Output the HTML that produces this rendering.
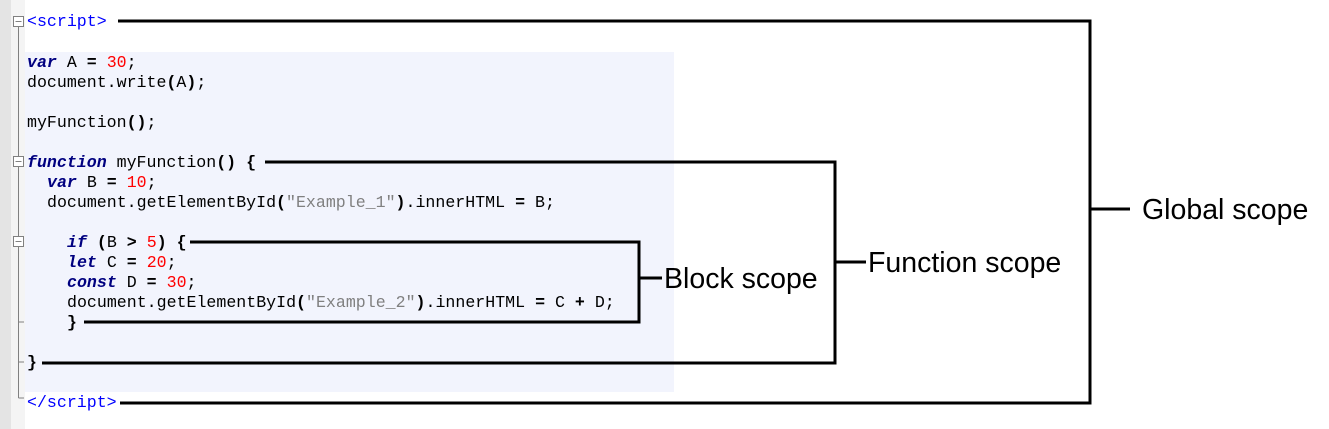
<!DOCTYPE html>
<html><head><meta charset="utf-8"><style>
html,body{margin:0;padding:0;background:#fff;width:1329px;height:429px;overflow:hidden}
svg{display:block}
.c{font-family:"Liberation Mono",monospace;font-size:16.6px;fill:#000;white-space:pre}
.k{fill:#000080;font-weight:bold;font-style:italic}
.o{font-weight:bold}
.n{fill:#ff0000}
.s{fill:#808080}
.t{fill:#0000ff}
.l{font-family:"Liberation Sans",sans-serif;font-size:28.5px;fill:#000}
</style></head><body>
<svg width="1329" height="429" xmlns="http://www.w3.org/2000/svg">
<rect x="0" y="0" width="11" height="429" fill="#e4e4e4"/>
<rect x="11" y="0" width="14" height="429" fill="#f4f4f4"/>
<rect x="25" y="52" width="649" height="340" fill="#f2f4fd"/>
<line x1="18.5" y1="26" x2="18.5" y2="398" stroke="#808080" stroke-width="1"/>
<line x1="18.5" y1="398" x2="24" y2="398" stroke="#808080"/>
<line x1="18.5" y1="322" x2="24" y2="322" stroke="#808080"/>
<line x1="18.5" y1="362" x2="24" y2="362" stroke="#808080"/>
<g fill="#fff" stroke="#808080">
<rect x="13.5" y="16.5" width="10" height="10"/>
<rect x="13.5" y="156.5" width="10" height="10"/>
<rect x="13.5" y="236.5" width="10" height="10"/>
</g>
<g stroke="#808080"><line x1="15.5" y1="21.5" x2="21.5" y2="21.5"/><line x1="15.5" y1="161.5" x2="21.5" y2="161.5"/><line x1="15.5" y1="241.5" x2="21.5" y2="241.5"/></g>
<g class="c">
<text x="27" y="26" class="t">&lt;script&gt;</text>
<text x="27" y="67"><tspan class="k">var</tspan> A <tspan class="o">=</tspan> <tspan class="n">30</tspan>;</text>
<text x="27" y="87">document.write<tspan class="o">(</tspan>A<tspan class="o">)</tspan>;</text>
<text x="27" y="127">myFunction<tspan class="o">()</tspan>;</text>
<text x="27" y="167"><tspan class="k">function</tspan> myFunction<tspan class="o">()</tspan> <tspan class="o">{</tspan></text>
<text x="47" y="187"><tspan class="k">var</tspan> B <tspan class="o">=</tspan> <tspan class="n">10</tspan>;</text>
<text x="47" y="207">document.getElementById<tspan class="o">(</tspan><tspan class="s">"Example_1"</tspan><tspan class="o">)</tspan>.innerHTML <tspan class="o">=</tspan> B;</text>
<text x="67" y="247"><tspan class="k">if</tspan> <tspan class="o">(</tspan>B <tspan class="o">&gt;</tspan> <tspan class="n">5</tspan><tspan class="o">)</tspan> <tspan class="o">{</tspan></text>
<text x="67" y="267"><tspan class="k">let</tspan> C <tspan class="o">=</tspan> <tspan class="n">20</tspan>;</text>
<text x="67" y="287"><tspan class="k">const</tspan> D <tspan class="o">=</tspan> <tspan class="n">30</tspan>;</text>
<text x="67" y="307">document.getElementById<tspan class="o">(</tspan><tspan class="s">"Example_2"</tspan><tspan class="o">)</tspan>.innerHTML <tspan class="o">=</tspan> C <tspan class="o">+</tspan> D;</text>
<text x="67" y="327" class="o">}</text>
<text x="27" y="367" class="o">}</text>
<text x="27" y="407" class="t">&lt;/script&gt;</text>
</g>
<g fill="none" stroke="#000" stroke-width="3">
<polyline points="118,21 1090,21 1090,403 120,403"/>
<line x1="1090" y1="209" x2="1130" y2="209"/>
<polyline points="265,162 835,162 835,363 42,363"/>
<line x1="835" y1="262" x2="866" y2="262"/>
<polyline points="190,242 639,242 639,322 84,322"/>
<line x1="639" y1="278" x2="662" y2="278"/>
</g>
<text class="l" x="1142" y="219">Global scope</text>
<text class="l" x="868" y="272">Function scope</text>
<text class="l" x="664" y="288">Block scope</text>
</svg>
</body></html>
